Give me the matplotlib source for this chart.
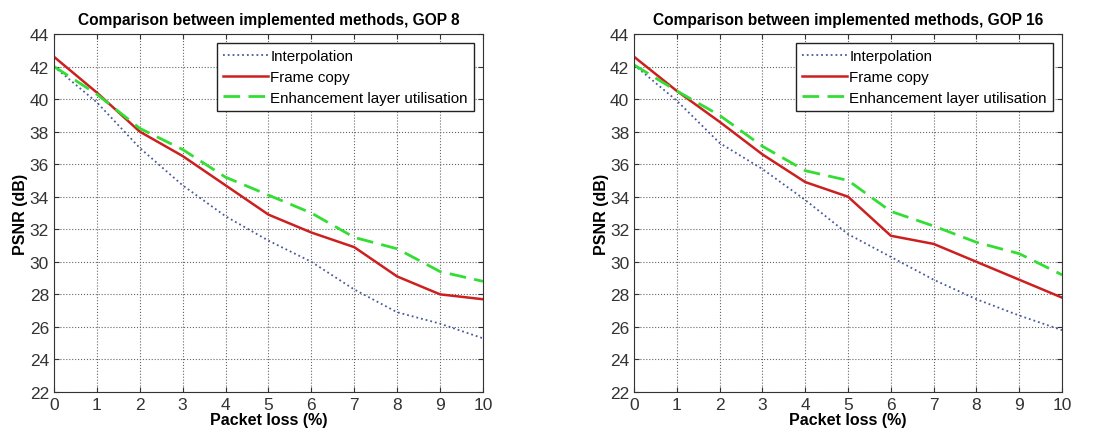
import numpy as np
import matplotlib.pyplot as plt

plt.rcParams['font.family'] = ['Liberation Sans', 'DejaVu Sans']

loss = [0, 1, 2, 3, 4, 5, 6, 7, 8, 9, 10]

# GOP 8
interp8 = [42.0, 39.8, 37.0, 34.7, 32.8, 31.3, 30.0, 28.3, 26.9, 26.2, 25.3]
copy8 = [42.6, 40.4, 38.0, 36.5, 34.7, 32.9, 31.8, 30.9, 29.1, 28.0, 27.7]
enh8 = [42.0, 40.3, 38.2, 36.9, 35.2, 34.1, 33.0, 31.5, 30.8, 29.4, 28.8]

# GOP 16
interp16 = [42.1, 39.9, 37.3, 35.7, 33.8, 31.7, 30.3, 28.9, 27.7, 26.7, 25.8]
copy16 = [42.6, 40.5, 38.6, 36.6, 34.9, 34.0, 31.6, 31.1, 30.0, 28.9, 27.8]
enh16 = [42.1, 40.5, 39.0, 37.1, 35.6, 35.0, 33.1, 32.2, 31.2, 30.5, 29.2]

titles = ["Comparison between implemented methods, GOP 8",
          "Comparison between implemented methods, GOP 16"]
labels = ["Interpolation", "Frame copy", "Enhancement layer utilisation"]

fig = plt.figure(figsize=(11.1, 4.39), dpi=100)
ax1 = fig.add_axes([0.0486, 0.1048, 0.3865, 0.8155])
ax2 = fig.add_axes([0.5712, 0.1048, 0.3856, 0.8155])

for ax, title, data in [(ax1, titles[0], (interp8, copy8, enh8)),
                        (ax2, titles[1], (interp16, copy16, enh16))]:
    ax.plot(loss, data[0], ':', color='#4a5a9a', lw=1.3, label=labels[0])
    ax.plot(loss, data[1], '-', color='#cc2020', lw=1.8, label=labels[1])
    ax.plot(loss, data[2], '--', color='#33dd33', lw=2.0, dashes=(6, 3), label=labels[2])
    ax.set_xlim(0, 10)
    ax.set_ylim(22, 44)
    ax.set_xticks(range(0, 11))
    ax.set_yticks(range(22, 45, 2))
    ax.grid(True, linestyle=':', color='#666666', lw=0.8)
    ax.tick_params(direction='in', top=True, right=True, labelsize=12.5, colors='#333333')
    ax.set_title(title, fontsize=11.2, fontweight='bold', pad=7)
    ax.set_xlabel("Packet loss (%)", fontsize=11.5, fontweight='bold', labelpad=0)
    ax.set_ylabel("PSNR (dB)", fontsize=11.5, fontweight='bold', labelpad=1)
    for s in ax.spines.values():
        s.set_color('#333333')
    leg = ax.legend(loc='upper right', fontsize=10.9, fancybox=False, edgecolor='#222222',
                    handlelength=3.0, handletextpad=0.15, borderpad=0.4, labelspacing=0.45,
                    borderaxespad=0.6, framealpha=1)
    leg.get_frame().set_linewidth(1.0)

fig.savefig("out.png", dpi=100)
